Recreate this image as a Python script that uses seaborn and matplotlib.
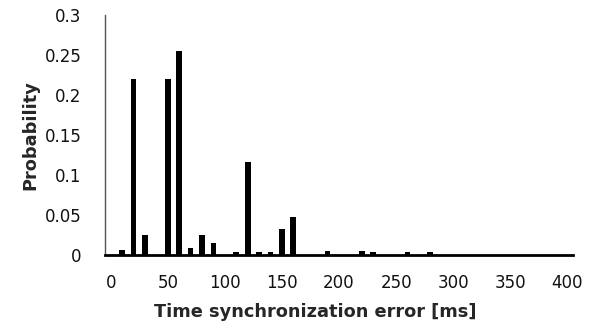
import matplotlib
matplotlib.use("Agg")
import matplotlib.pyplot as plt
import seaborn as sns
import pandas as pd

# Data: histogram bins (ms) and probabilities
bins_ms = [0, 10, 20, 30, 40, 50, 60, 70, 80, 90,
           100, 110, 120, 130, 140, 150, 160, 170, 180, 190,
           200, 210, 220, 230, 240, 250, 260, 270, 280, 290,
           300, 310, 320, 330, 340, 350, 360, 370, 380, 390, 400]
probability = [0.0, 0.006, 0.220, 0.025, 0.0, 0.220, 0.254, 0.009, 0.025, 0.015,
               0.0, 0.004, 0.116, 0.004, 0.004, 0.033, 0.047, 0.0, 0.0, 0.005,
               0.0, 0.0, 0.005, 0.004, 0.0, 0.0, 0.004, 0.0, 0.004, 0.0,
               0.0, 0.0, 0.0, 0.0, 0.0, 0.0, 0.0, 0.0, 0.0, 0.0, 0.0]
xtick_labels = ["0", "50", "100", "150", "200", "250", "300", "350", "400"]
ytick_values = [0, 0.05, 0.1, 0.15, 0.2, 0.25, 0.3]
ytick_labels = ["0", "0.05", "0.1", "0.15", "0.2", "0.25", "0.3"]

df = pd.DataFrame({"bin": [str(b) for b in bins_ms], "p": probability})

sns.set_style("white")
plt.rcParams["font.family"] = ["DejaVu Sans"]

fig = plt.figure(figsize=(6.0, 3.29), dpi=100)
ax = fig.add_axes([0.175, 0.225, 0.78, 0.7305])

sns.barplot(data=df, x="bin", y="p", color="black", width=0.5,
            saturation=1, linewidth=0, ax=ax)

n = len(bins_ms)
ax.set_xlim(-0.5, n - 0.5)
ax.set_ylim(0, 0.3)

# x labels at category centres every 5 bins, tick marks at boundaries
label_pos = [i for i, b in enumerate(bins_ms) if str(b) in xtick_labels]
ax.set_xticks(label_pos)
ax.set_xticklabels(xtick_labels, fontsize=12, color="#111111")
ax.tick_params(axis="x", which="major", length=0, pad=14)
ax.set_xticks([p - 0.5 for p in label_pos], minor=True)
ax.tick_params(axis="x", which="minor", direction="in", length=4,
               width=1, color="#555555")

ax.set_yticks(ytick_values)
ax.set_yticklabels(ytick_labels, fontsize=12, color="#111111")
ax.tick_params(axis="y", which="major", direction="in", length=5,
               width=1, color="#555555", pad=17)

for s in ["top", "right"]:
    ax.spines[s].set_visible(False)
ax.spines["left"].set_color("#555555")
ax.spines["left"].set_linewidth(1.0)
ax.spines["bottom"].set_color("black")
ax.spines["bottom"].set_linewidth(2.0)

ax.set_xlabel("Time synchronization error [ms]", fontsize=12.8,
              fontweight="bold")
ax.set_ylabel("Probability", fontsize=12.8, fontweight="bold")
ax.xaxis.set_label_coords(0.449, -0.2375)
ax.xaxis.label.set_va("center")
ax.yaxis.set_label_coords(-0.16, 0.5)
ax.yaxis.label.set_va("center")

fig.savefig("out.png", dpi=100)
